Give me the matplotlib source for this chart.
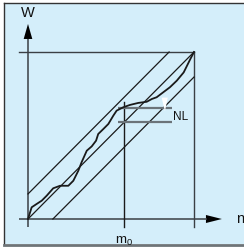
import matplotlib
matplotlib.use("Agg")
import matplotlib.pyplot as plt
from matplotlib.patches import Rectangle, Polygon
from matplotlib.lines import Line2D
import numpy as np

plt.rcParams['font.family'] = ['Liberation Sans', 'DejaVu Sans']
plt.rcParams['mathtext.fontset'] = 'custom'
plt.rcParams['mathtext.rm'] = 'Liberation Sans'
plt.rcParams['mathtext.it'] = 'Liberation Sans'

# ---- data (normalised: n and W from 0 to 1 at the upper-right corner) ----
curve_n = [0.0, 0.022, 0.052, 0.083, 0.113, 0.152, 0.193, 0.243, 0.273, 0.303,
           0.323, 0.354, 0.384, 0.410, 0.423, 0.454, 0.484, 0.514, 0.534, 0.574,
           0.614, 0.664, 0.715, 0.747, 0.775, 0.815, 0.855, 0.896, 0.938, 0.958,
           0.978, 1.0]
curve_w = [0.0, 0.070, 0.090, 0.110, 0.140, 0.184, 0.199, 0.199, 0.229, 0.289,
           0.340, 0.409, 0.435, 0.469, 0.509, 0.539, 0.569, 0.619, 0.649, 0.669,
           0.683, 0.695, 0.702, 0.719, 0.729, 0.759, 0.789, 0.828, 0.878, 0.918,
           0.958, 1.0]
band = 0.15            # tolerance band around the nominal diagonal
m0 = 0.578             # marked n position
nl_levels = [0.665, 0.583]
nl_span = [0.542, 0.867]
axis_labels = ["W", "n"]
m0_label = r"$\mathrm{m_0}$"
nl_label = "NL"

W_PX, H_PX = 244, 251
fig = plt.figure(figsize=(W_PX / 100, H_PX / 100), dpi=100)
fig.patch.set_facecolor("white")

ax = fig.add_axes([0, 0, 1, 1])
ax.set_facecolor("none")
ox, oy, sx, sy = 28, 220, 166, 167
ax.set_xlim(-ox / sx, (W_PX - ox) / sx)
ax.set_ylim((oy - H_PX) / sy, oy / sy)
ax.axis("off")

# frame (figure pixel coords)
def fx(x): return x / W_PX
def fy(y): return 1 - y / H_PX

tf = fig.transFigure
ax.add_patch(Rectangle((fx(4), fy(245)), fx(244) - fx(4), fy(4) - fy(245),
                       transform=tf, facecolor="#d4eefa", edgecolor="none", zorder=-10))
ax.add_line(Line2D([fx(4), fx(4)], [fy(4), fy(245)], transform=tf,
                   color="#333333", lw=1.0, zorder=-5))
ax.add_line(Line2D([fx(4), fx(244)], [fy(4), fy(4)], transform=tf,
                   color="#333333", lw=1.0, zorder=-5))
ax.add_line(Line2D([fx(4), fx(244)], [fy(245.5), fy(245.5)], transform=tf,
                   color="#6e7478", lw=2.0, zorder=-5))

dark = "#1a1a1a"
axc = "#3a3f44"
# axes
ymin_ax = -0.048
ax.plot([0, 0], [ymin_ax, 1.078], color=axc, lw=1.1, solid_capstyle="butt")
ax.plot([-0.054, 1.078], [0, 0], color=axc, lw=1.1, solid_capstyle="butt")
ax.add_patch(Polygon([[-0.026, 1.078], [0.026, 1.078], [0, 1.168]], closed=True,
                     facecolor="black", edgecolor="none"))
ax.add_patch(Polygon([[1.072, -0.024], [1.072, 0.024], [1.168, 0]], closed=True,
                     facecolor="black", edgecolor="none"))
# box lines
ax.plot([-0.054, 1.0], [1, 1], color=axc, lw=1.0)
ax.plot([1, 1], [ymin_ax, 1], color=axc, lw=1.0)
ax.plot([m0, m0], [ymin_ax, 0.70], color=dark, lw=1.0)

# diagonals
ax.plot([0, 1], [0, 1], color=dark, lw=0.9)
ax.plot([0, 1 - band], [band, 1], color=dark, lw=0.9)
ax.plot([band, 1], [0, 1 - band], color=dark, lw=0.9)

# NL lines
for lv in nl_levels:
    ax.plot(nl_span, [lv, lv], color="#6b7379", lw=1.6, solid_capstyle="butt")
ax.add_patch(Polygon([[0.805, 0.727], [0.842, 0.727], [0.825, 0.645]], closed=True,
                     facecolor="white", edgecolor="none", zorder=5))

# measured curve
ax.plot(curve_n, curve_w, color=dark, lw=1.3, zorder=6)

# text
ax.text(0, 1.237, axis_labels[0], ha="center", va="center", fontsize=10.5, color="#111111")
ax.text(1.253, 0.006, axis_labels[1], ha="left", va="center", fontsize=10.5, color="#111111")
ax.text(m0, -0.13, m0_label, ha="center", va="center", fontsize=9.5, color="#111111")
ax.text(0.875, 0.615, nl_label, ha="left", va="center", fontsize=8.5, color="#111111")

fig.savefig("out.png", dpi=100, facecolor="white")
